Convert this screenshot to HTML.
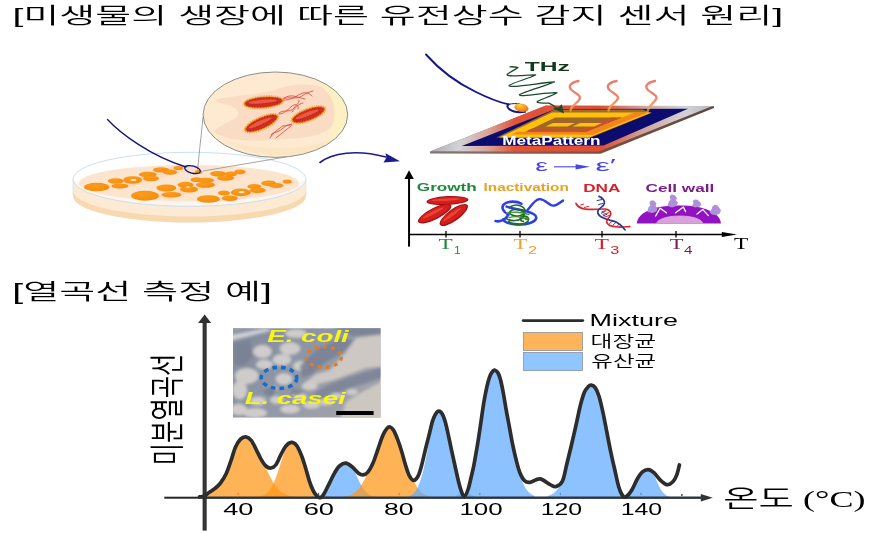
<!DOCTYPE html>
<html lang="ko"><head><meta charset="utf-8"><title>미생물의 생장에 따른 유전상수 감지 센서 원리</title>
<style>
html,body{margin:0;padding:0;background:#fff;}
body{width:880px;height:533px;overflow:hidden;font-family:"Liberation Sans","Noto Sans CJK KR",sans-serif;}
svg{display:block;}
</style></head><body>
<svg width="880" height="533" viewBox="0 0 880 533">
<rect width="880" height="533" fill="#fff"/>
<defs>
  <radialGradient id="colg" cx="0.4" cy="0.35" r="0.8">
    <stop offset="0" stop-color="#fb9c1c"/><stop offset="0.7" stop-color="#f6900e"/><stop offset="1" stop-color="#ec8206"/>
  </radialGradient>
  <linearGradient id="agarSide" x1="0" y1="0" x2="0" y2="1">
    <stop offset="0" stop-color="#fbe6cb"/><stop offset="1" stop-color="#f8d7aa"/>
  </linearGradient>
  <clipPath id="magclip"><ellipse cx="275.4" cy="114.7" rx="72" ry="42.4"/></clipPath>
</defs>
<g id="dish">
  <!-- base side -->
  <path d="M73,180 L73,196 A116.5,26.6 0 0 0 306,196 L306,180 Z" fill="#f8d8ae"/>
  <path d="M73,180 L73,190.5 A116.5,26 0 0 0 306,190.5 L306,180 Z" fill="#fdead5"/>
  <ellipse cx="189.5" cy="179.5" rx="116.3" ry="26.8" fill="#fef6ee"/>
  <path d="M73,179.5 A116.5,27 0 0 1 306,179.5 L299,183 A110,18 0 0 0 79,183 Z" fill="#fff"/>
  <ellipse cx="189" cy="183.2" rx="110" ry="18.2" fill="#fbe5cf"/>
  <!-- pink streaks -->
  <path d="M100,186 L178,165 L196,168 L120,190 Z" fill="#f9d6be" opacity="0.75"/>
  <path d="M148,196 L236,170 L250,174 L170,199 Z" fill="#f9d6be" opacity="0.75"/>
  <path d="M210,200 L285,180 L296,183 L232,202 Z" fill="#f9d6be" opacity="0.75"/>
  <!-- colonies -->
  <g fill="url(#colg)">
    <ellipse cx="96.7" cy="187" rx="12.7" ry="4.3"/>
    <ellipse cx="115.7" cy="181" rx="8" ry="2.8"/>
    <ellipse cx="120" cy="186" rx="8.5" ry="2.5"/>
    <ellipse cx="132.6" cy="180" rx="9.5" ry="3.8"/>
    <ellipse cx="147.8" cy="174.6" rx="9" ry="2.8"/>
    <ellipse cx="151" cy="178.5" rx="8" ry="2.8"/>
    <ellipse cx="161" cy="169.8" rx="8" ry="2.6"/>
    <ellipse cx="170" cy="172.2" rx="7" ry="2.6"/>
    <ellipse cx="178.5" cy="168" rx="5" ry="2"/>
    <ellipse cx="145" cy="195.7" rx="13.9" ry="5"/>
    <ellipse cx="166.4" cy="188" rx="10" ry="3.4"/>
    <ellipse cx="171.5" cy="194.8" rx="10" ry="2.8"/>
    <ellipse cx="185.5" cy="184.8" rx="8" ry="3"/>
    <ellipse cx="189" cy="189.2" rx="9" ry="3.2"/>
    <ellipse cx="196.5" cy="179.7" rx="6" ry="2.4"/>
    <ellipse cx="205.5" cy="184.8" rx="9.5" ry="3"/>
    <ellipse cx="206" cy="180.2" rx="8" ry="2.4"/>
    <ellipse cx="218" cy="173.8" rx="8" ry="2.8"/>
    <ellipse cx="225.6" cy="178" rx="8.5" ry="2.8"/>
    <ellipse cx="231" cy="174" rx="6" ry="2.5"/>
    <ellipse cx="240" cy="171.8" rx="5.5" ry="2.4"/>
    <ellipse cx="208.4" cy="199" rx="11.5" ry="3.8"/>
    <ellipse cx="224" cy="193" rx="6" ry="2.4"/>
    <ellipse cx="229.8" cy="198.3" rx="8" ry="2.8"/>
    <ellipse cx="240.8" cy="192.4" rx="10" ry="3.8"/>
    <ellipse cx="254.3" cy="186.5" rx="7" ry="2.4"/>
    <ellipse cx="257.7" cy="190.3" rx="8" ry="2.8"/>
    <ellipse cx="268.7" cy="183.2" rx="7.5" ry="2.8"/>
    <ellipse cx="276.3" cy="185.5" rx="7" ry="2.6"/>
    <ellipse cx="287.3" cy="181.4" rx="4.5" ry="2"/>
  </g>
  <g fill="#fde9c4">
    <ellipse cx="133.5" cy="180" rx="3" ry="1.1"/>
    <ellipse cx="241.5" cy="192.2" rx="3" ry="1.1"/>
    <ellipse cx="188" cy="187" rx="2" ry="0.8"/>
  </g>
  <!-- glass rim -->
  <ellipse cx="189.5" cy="179.3" rx="116.5" ry="27" fill="none" stroke="#c3dcee" stroke-width="0.9"/>
  <path d="M73,180 L73,195 M306,180 L306,195" stroke="#d3e6f2" stroke-width="0.8" fill="none"/>
</g>
<g id="needle1">
  <path d="M200.6,140 L197.5,170 M203,171 L286.4,156.9" stroke="#9a9a96" stroke-width="0.9" fill="none"/>
  <ellipse cx="198.5" cy="172" rx="4" ry="2" fill="#f39a1e"/>
  <path d="M107.5,119.5 C120,133 150,156 186,167" stroke="#15157e" stroke-width="1.35" fill="none" stroke-linecap="round"/>
  <ellipse cx="192.5" cy="169.6" rx="8" ry="3.6" transform="rotate(14 192.5 169.6)" fill="none" stroke="#15157e" stroke-width="1.3"/>
</g>
<g id="magnifier">
  <path d="M203,117 L200.6,141" stroke="#9a9a96" stroke-width="0.9" fill="none"/>
  <ellipse cx="275.4" cy="114.7" rx="72.3" ry="42.7" fill="#fdead0"/>
  <g clip-path="url(#magclip)">
    <path d="M215,100 C235,94 260,96 280,88 C300,82 320,84 335,92 C345,100 340,118 330,128 C315,140 290,138 270,140 C250,142 225,140 214,132 C222,122 240,120 238,112 C236,104 222,106 215,100 Z" fill="#f9dcc3"/>
    <path d="M318,84 C335,88 348,100 348,116 C348,130 338,142 322,148 C332,132 336,120 334,106 C332,96 326,90 318,84 Z" fill="#fdf1c4"/>
    <path d="M225,140 C250,150 300,152 330,140 C310,160 250,160 225,140 Z" fill="#fbe2bd" opacity="0.7"/>
  </g>
  <!-- flagella -->
  <g fill="none" stroke="#dc4034" stroke-width="0.8" stroke-linecap="round">
    <path d="M283,99 C290,96 296,100 302,96 C306,93 309,92 313,91"/>
    <path d="M283,100 C291,101 297,95 303,93 C307,92 310,94 312,96"/>
    <path d="M284,98 C292,93 298,98 305,99"/>
    <path d="M279,113 C284,109 290,113 294,108 C297,104 300,102 299,100"/>
    <path d="M279,114 C286,114 289,107 294,105 C297,104 299,106 298,109"/>
    <path d="M292,112 C295,108 298,104 303,103"/>
    <path d="M292,124 C287,127 284,124 280,128 C276,131 273,133 270,138"/>
    <path d="M292,125 C287,123 283,129 279,131 C276,133 272,132 271,135"/>
    <path d="M291,126 C286,130 282,133 276,138"/>
  </g>
  <!-- bacteria -->
  <g>
    <g transform="rotate(-5 263.6 102.3)">
      <ellipse cx="263.6" cy="102.3" rx="20.5" ry="6.5" fill="none" stroke="#f3a12c" stroke-width="0.9" stroke-dasharray="1.2 1"/>
      <ellipse cx="263.6" cy="102.3" rx="19.9" ry="5.9" fill="#ea8a1e"/>
      <ellipse cx="263.6" cy="102.3" rx="18.4" ry="4.7" fill="#d02c20"/>
      <ellipse cx="263.6" cy="102.3" rx="18.4" ry="4.7" fill="none" stroke="#aa1e16" stroke-width="0.7" stroke-dasharray="1.2 1.6"/>
      <ellipse cx="262.6" cy="101.5" rx="14.2" ry="1.8" fill="#f06048" opacity="0.85"/>
      <path d="M248.40000000000003,103.89999999999999 L278.8,103.5" stroke="#b4241a" stroke-width="0.7" stroke-dasharray="2 1.4" fill="none"/>
    </g>
    <g transform="rotate(-24 261.5 123.2)">
      <ellipse cx="261.5" cy="123.2" rx="18.7" ry="6.7" fill="none" stroke="#f3a12c" stroke-width="0.9" stroke-dasharray="1.2 1"/>
      <ellipse cx="261.5" cy="123.2" rx="18.099999999999998" ry="6.1000000000000005" fill="#ea8a1e"/>
      <ellipse cx="261.5" cy="123.2" rx="16.599999999999998" ry="4.9" fill="#d02c20"/>
      <ellipse cx="261.5" cy="123.2" rx="16.599999999999998" ry="4.9" fill="none" stroke="#aa1e16" stroke-width="0.7" stroke-dasharray="1.2 1.6"/>
      <ellipse cx="260.5" cy="122.4" rx="12.399999999999999" ry="2.0" fill="#f06048" opacity="0.85"/>
      <path d="M248.1,124.8 L274.9,124.4" stroke="#b4241a" stroke-width="0.7" stroke-dasharray="2 1.4" fill="none"/>
    </g>
    <g transform="rotate(-21 308.4 114.7)">
      <ellipse cx="308.4" cy="114.7" rx="18.5" ry="6.7" fill="none" stroke="#f3a12c" stroke-width="0.9" stroke-dasharray="1.2 1"/>
      <ellipse cx="308.4" cy="114.7" rx="17.9" ry="6.1000000000000005" fill="#ea8a1e"/>
      <ellipse cx="308.4" cy="114.7" rx="16.4" ry="4.9" fill="#d02c20"/>
      <ellipse cx="308.4" cy="114.7" rx="16.4" ry="4.9" fill="none" stroke="#aa1e16" stroke-width="0.7" stroke-dasharray="1.2 1.6"/>
      <ellipse cx="307.4" cy="113.9" rx="12.2" ry="2.0" fill="#f06048" opacity="0.85"/>
      <path d="M295.2,116.3 L321.59999999999997,115.9" stroke="#b4241a" stroke-width="0.7" stroke-dasharray="2 1.4" fill="none"/>
    </g>
  </g>
  <ellipse cx="275.4" cy="114.7" rx="72.3" ry="42.7" fill="none" stroke="#8e8e86" stroke-width="1"/>
</g>
<g id="bluearrow">
  <path d="M320,162.5 C332,153 356,149 386,157" stroke="#1b1b8c" stroke-width="1.6" fill="none" stroke-linecap="round"/>
  <path d="M400,161.2 L385.5,153.2 L386.5,157.6 L383.5,162.4 Z" fill="#1b1b8c"/>
</g>
<defs>
  <linearGradient id="frameG" gradientUnits="userSpaceOnUse" x1="430" y1="0" x2="714" y2="0">
    <stop offset="0" stop-color="#a9a9ae"/>
    <stop offset="0.10" stop-color="#d2d2d8"/>
    <stop offset="0.20" stop-color="#d9a79e"/>
    <stop offset="0.30" stop-color="#e0543a"/>
    <stop offset="0.60" stop-color="#e04e34"/>
    <stop offset="0.76" stop-color="#cfa8a2"/>
    <stop offset="0.90" stop-color="#d2d2d8"/>
    <stop offset="1" stop-color="#b4b4ba"/>
  </linearGradient>
  <linearGradient id="edgeG" gradientUnits="userSpaceOnUse" x1="430" y1="0" x2="714" y2="0">
    <stop offset="0" stop-color="#7d7a78"/>
    <stop offset="0.35" stop-color="#8a5a4c"/>
    <stop offset="0.6" stop-color="#7a5040"/>
    <stop offset="1" stop-color="#5e4a40"/>
  </linearGradient>
  <linearGradient id="heatG" gradientUnits="userSpaceOnUse" x1="0" y1="80" x2="0" y2="112">
    <stop offset="0" stop-color="#ea6a5c"/>
    <stop offset="0.6" stop-color="#ec7a5e"/>
    <stop offset="0.85" stop-color="#f0a050"/>
    <stop offset="1" stop-color="#f6c84a" stop-opacity="0.6"/>
  </linearGradient>
  <radialGradient id="blobG" cx="0.35" cy="0.3" r="0.8">
    <stop offset="0" stop-color="#ffd24a"/><stop offset="0.5" stop-color="#f59a20"/><stop offset="1" stop-color="#e2601a"/>
  </radialGradient>
</defs>
<g id="sensor">
  <!-- plate thickness edge -->
  <path d="M430,151.6 L545.5,105.8 L714,106.2 L714,108 L600.6,153.8 L430,153.6 Z" fill="url(#edgeG)"/>
  <!-- frame top face -->
  <path d="M431,151.2 L545.8,105.6 L712.5,106 L598.6,151.6 Z" fill="url(#frameG)"/>
  <!-- navy -->
  <path d="M461.8,146 L555.5,109 L688,108.8 L603.6,145.6 Z" fill="#0c0c6e"/>
  <!-- pattern block -->
  <path d="M496.6,137.6 L554.5,109.4 L643,109.4 L651,113 L589,138.2 Z" fill="#a26c28"/>
  <path d="M499.5,137.6 L552.2,112.5 L651.8,112.5 L589.0,137.6 Z" fill="#ffc20a"/>
  <path d="M579.2,134.6 L634.5,112.5 L648.0,112.5 L592.8,134.6 Z" fill="#f2861a"/>
  <path d="M511.6,134.6 L517.5,131.8 L599.8,131.8 L592.8,134.6 Z" fill="#f2861a"/>
  <path d="M525.5,131.8 L555.3,117.6 L621.8,117.6 L586.2,131.8 Z" fill="#a06628"/>
  <path d="M576.2,131.8 L611.8,117.6 L621.8,117.6 L586.2,131.8 Z" fill="#c4522c"/>
  <path d="M525.5,131.8 L532.2,128.6 L594.2,128.6 L586.2,131.8 Z" fill="#c4522c"/>
  <path d="M545.4,126.6 L553.0,123.0 L575.0,123.0 L567.4,126.6 Z" fill="#ffc20a"/>
  <path d="M572.4,126.6 L580.0,123.0 L602.0,123.0 L594.4,126.6 Z" fill="#ffc20a"/>
</g>
<g id="heat" fill="none" stroke="url(#heatG)" stroke-width="2.3" stroke-linecap="round" opacity="0.9">
  <path d="M578.5,81 C571,82.5 567.5,86 571.5,90 C576,94 582.5,95.5 579,100 C576.5,103.5 571,106 570.5,110.5"/>
  <path d="M616.5,81 C609,82.5 605.5,86 609.5,90 C614,94 620.5,95.5 617,100 C614.5,103.5 609,106 608.5,110.5"/>
  <path d="M655,81 C647.5,82.5 644,86 648,90 C652.5,94 659,95.5 655.5,100 C653,103.5 648,106.5 647.5,112"/>
</g>
<g id="thz">
  <path d="M510,66.8 C513,66.6 516,67 518,67.6 C515,70 509,72.4 507.2,74.4 C506.4,76 512,76 520,75.6 C527,75.2 534,74.6 535.6,75 C530,78 512,83 509.2,85.4 C508,87 516,86.6 530,84.8 C542,83.2 552,81.8 554.4,82 C548,85 523,92 519.6,94.6 C518.4,96 526,95.8 538,94.2 C548,93 555,92.4 557,92.8 C552,96 540,99.6 537.2,101.6 C536.4,102.8 542,103 549,103.2 C552,104.6 555,106.6 557,108.4" fill="none" stroke="#1d4a2c" stroke-width="1.3" stroke-linecap="round" stroke-linejoin="round"/>
  <path d="M564,113.4 L561.8,104.2 L558.6,107.2 L553,108.6 Z" fill="#1d4a2c"/>
</g>
<g id="needle2">
  <path d="M426,54.5 C438,68 455,82 476,92 C488,98 498,102 508.6,104.4" stroke="#15158a" stroke-width="1.9" fill="none" stroke-linecap="round"/>
  <path d="M508.6,104.4 C512,103.4 517,103.4 520,104" stroke="#15158a" stroke-width="1" fill="none"/>
  <path d="M508.6,104.4 C506.6,105.4 507.2,107.6 509.6,109.4 C513,111.8 519,112.6 525,111.8" stroke="#15158a" stroke-width="2" fill="none" stroke-linecap="round"/>
  <ellipse cx="521.4" cy="107.7" rx="7.2" ry="4.1" transform="rotate(12 521.4 107.7)" fill="url(#blobG)"/>
</g>
<g id="epsarrow">
  <path d="M554,166.8 L578,166.8" stroke="#4646ec" stroke-width="1.1" fill="none"/>
  <path d="M590,166.8 L575.6,164.2 L575.6,169.4 Z" fill="#4646ec"/>
</g>
<g id="timeline">
  <path d="M409.05,176 L409.05,246.6" stroke="#000" stroke-width="2" fill="none"/>
  <path d="M409.05,170.3 L413.8,178.9 L404.4,178.9 Z" fill="#000"/>
  <path d="M409,234.5 L724,234.5" stroke="#000" stroke-width="1.4" fill="none"/>
  <path d="M737,234.5 L721.8,232 L721.8,237 Z" fill="#000"/>
  <path d="M446,231 L446,237.4 M520,231 L520,237.4 M602,231 L602,237.4 M676,231 L676,237.4" stroke="#000" stroke-width="1.3" fill="none"/>
</g>
<g id="ico-growth">
  <g transform="rotate(-3 447.5 200.6)">
    <ellipse cx="447.5" cy="200.6" rx="21" ry="4.5" fill="#a01214"/>
    <ellipse cx="447.5" cy="200.4" rx="19.6" ry="3.5" fill="#d61e1e"/>
    <ellipse cx="446" cy="199.6" rx="14" ry="1.2" fill="#f0503c" opacity="0.75"/>
  </g>
  <g transform="rotate(-27 434.7 213.6)">
    <ellipse cx="434.7" cy="213.6" rx="18.6" ry="5.8" fill="#a01214"/>
    <ellipse cx="434.7" cy="213.3" rx="17.2" ry="4.6" fill="#d61e1e"/>
    <ellipse cx="433.5" cy="212.2" rx="12" ry="1.5" fill="#f0503c" opacity="0.75"/>
  </g>
  <g transform="rotate(-36 453.8 215)">
    <ellipse cx="453.8" cy="215" rx="17" ry="5.8" fill="#a01214"/>
    <ellipse cx="453.8" cy="214.7" rx="15.6" ry="4.6" fill="#d61e1e"/>
    <ellipse cx="452.6" cy="213.6" rx="11" ry="1.5" fill="#f0503c" opacity="0.75"/>
  </g>
</g>
<g id="ico-inact" fill="none" stroke-linecap="round" stroke-linejoin="round">
  <path d="M495.6,221 C500,222.4 506,219.4 508.4,214.6 C503.6,212.4 500.6,207.4 504,204.2 C508,200.8 517,200.8 521.4,203.8" stroke="#2f3fe6" stroke-width="2.6"/>
  <path d="M506.6,206.6 C512,208.6 520,209.6 527,211.4 C533,213 536.6,215 536.2,218 C535.6,222 527,225 517,224.4 C510,224 504.6,222 503,219.6" stroke="#2f3fe6" stroke-width="2.6"/>
  <path d="M527.4,210.2 C531,206.4 534,200.4 539,199.2 C545,198.4 548,205.2 553,205.6 C557,205.8 560,202.2 563,200.6" stroke="#2f3fe6" stroke-width="2.4"/>
  <path d="M511,206.4 C516,203.4 524,205.6 525,210.4 C526,215.4 516,217.6 511,214.6 C507.6,212.4 511,209 517,209.4 C523,209.8 526,213.6 523,217.4 C520,221 511,221.6 507,219" stroke="#1f6e24" stroke-width="1.7"/>
  <path d="M509,221.6 C514,226 525,225.4 528,221 C530,217.6 526,215 522,216.6 C519,218 520,221.4 523.4,221.4" stroke="#1f6e24" stroke-width="1.7"/>
  <path d="M506,213.4 C512,211.2 522,212 529,214.6" stroke="#3c9030" stroke-width="1.4"/>
  <path d="M509,217.6 C514,216 520,216.4 525,218.4" stroke="#3c9030" stroke-width="1.2"/>
  <ellipse cx="526.6" cy="218.6" rx="2.4" ry="1.6" fill="#3c9030" stroke="none"/>
</g>
<g id="ico-dna" fill="none" stroke-linecap="round">
  <g stroke="#d8262e" stroke-width="1">
    <path d="M580.6,205 L583.6,204.2 M584.4,207.4 L588.6,206.4 M602,211.6 L606,210.6 M603,214.4 L608.6,212.8 M604.6,217 L609.6,215.4"/>
    <path d="M609.6,223.4 L612.6,221 M613,225 L616,222.4 M617,226.4 L619.6,223.8"/>
  </g>
  <g stroke="#2c3c8c" stroke-width="1">
    <path d="M597,200.6 L601.6,199.6 M598.6,204.6 L603,203.4"/>
    <path d="M601.4,213.2 L605,211.6 M603,216 L607,214.2"/>
  </g>
  <path d="M576,203.5 C577.6,206.6 580,208 584,208.8 C590,209.8 597,209.4 603.4,209 C608,208.8 611,211 610.8,214 C610.6,217.4 606,219.4 606.6,222 C607.2,225 612,226.6 617.6,227 C622,227.2 626,226.8 629.8,226.6" stroke="#d8262e" stroke-width="1.7"/>
  <path d="M599,196.4 C602.6,198 604.8,200.4 604.4,203.4 C604,206.6 598.6,208 597.8,211.2 C597.2,214.6 600.6,217.4 605.8,219 C610,220.4 614,220.8 617,222.4 C620.6,224.4 623,227 625,229.8" stroke="#2c3c8c" stroke-width="1.7"/>
</g>
<g id="ico-cell">
  <path d="M636.8,223.6 C637.4,213 652,205.4 678.8,205.4 C705.6,205.4 720.4,213 720.9,223.6 Z" fill="#9212c2"/>
  <g fill="#b090d8">
    <path d="M647.4,212 L648.4,207.6 L650.4,205.6 L649.4,202.4 L651,200.4 L654,200.6 L656.4,203.4 L655.6,206 L657.6,208 L656.4,211.4 L652.6,213 Z"/>
    <path d="M667.6,206 L668.8,201.6 L670.6,199.8 L669.6,196.6 L671.4,194.6 L674.4,195 L677,198 L676,200.6 L678,202.6 L676.6,206 L672,207.4 Z"/>
    <path d="M692,206 L693.6,203 L692.8,201 L694.6,199.6 L697.6,199.8 L700,202 L701.4,204.4 L699.6,206.6 L695.6,207.4 Z"/>
    <path d="M709.4,212 L711.6,209.6 L712.4,206.4 L714.6,204.8 L717.6,205.6 L719.4,208 L721,210.6 L719.6,213.6 L716.4,215.2 L712,214.6 Z"/>
  </g>
  <path d="M656.7,223.6 A23,7.6 0 0 1 702.7,223.6 Z" fill="#d6a2d8"/>
  <path d="M656.7,223.6 A23,7.6 0 0 1 702.7,223.6" fill="none" stroke="#eeb6e6" stroke-width="0.7"/>
  <g stroke="#fff" stroke-width="1.3" fill="none" stroke-linecap="round" stroke-linejoin="round">
    <path d="M655.6,216 L660.2,208.2 L666.4,212.8"/>
    <path d="M675.6,212.8 L683.4,207 L685.6,211.6"/>
    <path d="M697,214 L702.7,209.4 L708.4,215.6"/>
  </g>
</g>
<defs>
  <clipPath id="photoclip"><rect x="233" y="328.3" width="147.5" height="89.2"/></clipPath>
  <filter id="pblur" x="-10%" y="-10%" width="120%" height="120%"><feGaussianBlur stdDeviation="1.7"/></filter>
  <linearGradient id="photoBg" x1="0" y1="0" x2="1" y2="0.6">
    <stop offset="0" stop-color="#818a9d"/><stop offset="0.5" stop-color="#8f96a6"/><stop offset="1" stop-color="#a2a3aa"/>
  </linearGradient>
</defs>
<g id="photo">
  <rect x="233" y="328.3" width="147.5" height="89.2" fill="url(#photoBg)"/>
  <g clip-path="url(#photoclip)">
    <g filter="url(#pblur)">
      <path d="M228,335.5 L266,328 L272,330.5 L228,341.5 Z" fill="#cfd0d4"/>
      <path d="M228,326 L262,326 L228,333 Z" fill="#9aa0ac"/>
      <path d="M330,326 L385,326 L385,335 L352,336 Z" fill="#7c8597"/>
      <path d="M346,352 L356,338 L385,334 L385,366 L366,368 L350,374 L334,380 L318,384 L306,382 L316,374 L330,370 Z" fill="#cdc8c3"/>
      <path d="M385,366 L385,377 L350,388 L322,399 L312,394 L330,384 L352,376 Z" fill="#7f879a"/>
      <path d="M340,420 L346,402 L362,392 L385,380 L385,420 Z" fill="#cdc7c1"/>
      <g fill="#cfcccb">
        <ellipse cx="262.4" cy="351.5" rx="9.5" ry="6.8"/>
        <ellipse cx="264.4" cy="364.5" rx="8.5" ry="5"/>
        <ellipse cx="246.7" cy="376" rx="12" ry="8"/>
        <ellipse cx="239.8" cy="390" rx="7.5" ry="9.5"/>
        <ellipse cx="282" cy="359.8" rx="9.5" ry="6"/>
        <ellipse cx="290" cy="348.5" rx="10.5" ry="6.4"/>
        <ellipse cx="284" cy="379" rx="8.5" ry="6"/>
        <ellipse cx="300" cy="366" rx="7" ry="5"/>
        <ellipse cx="309.6" cy="386" rx="8" ry="4.4"/>
        <ellipse cx="239" cy="409.5" rx="8" ry="6"/>
        <ellipse cx="255" cy="413" rx="12" ry="5"/>
        <ellipse cx="258" cy="401" rx="8" ry="4.6"/>
        <ellipse cx="290" cy="409" rx="10" ry="4.5"/>
        <ellipse cx="311.6" cy="405" rx="8.5" ry="3.8"/>
        <ellipse cx="277" cy="400" rx="7" ry="4"/>
        <ellipse cx="300" cy="397" rx="7" ry="3.6"/>
        <ellipse cx="296" cy="333.5" rx="11" ry="4.6"/>
        <ellipse cx="326" cy="402" rx="7" ry="3.4"/>
        <ellipse cx="336" cy="396" rx="6" ry="3"/>
        <ellipse cx="352" cy="392" rx="6" ry="3"/>
        <ellipse cx="272" cy="390" rx="6" ry="4"/>
      </g>
      <g fill="#7a8295">
        <path d="M234,343 L250,340 L253,356 L244,366 L234,364 Z"/>
        <path d="M262,392 L270,386 L278,391 L270,397 Z"/>
        <path d="M300,366 L316,350 L340,338 L354,340 L344,352 L326,362 L312,374 L302,378 Z" opacity="0.9"/>
        <path d="M292,388 L304,391 L298,396 L290,393 Z" opacity="0.8"/>
      </g>
    </g>
    <ellipse cx="279" cy="377.9" rx="17.8" ry="10.6" fill="none" stroke="#1b6bc4" stroke-width="3.6" stroke-dasharray="4.6 4.1"/>
    <ellipse cx="323.9" cy="357.1" rx="17.6" ry="10.3" fill="none" stroke="#e67a1c" stroke-width="3.2" stroke-dasharray="3.6 4.6"/>
    <rect x="336.2" y="411" width="37.4" height="4" fill="#000"/>
  </g>
</g>

<g id="chart">
<defs><clipPath id="undercurve"><path d="M199.60,496.80 C200.33,496.70 202.43,496.90 204.00,496.20 C205.57,495.50 207.22,493.85 209.00,492.60 C210.78,491.35 212.77,490.33 214.70,488.70 C216.63,487.07 218.63,485.43 220.60,482.80 C222.57,480.17 224.68,476.85 226.50,472.90 C228.32,468.95 230.02,463.37 231.50,459.10 C232.98,454.83 233.93,450.58 235.40,447.30 C236.87,444.02 238.57,441.15 240.30,439.40 C242.03,437.65 243.98,436.63 245.80,436.80 C247.62,436.97 249.48,438.32 251.20,440.40 C252.92,442.48 254.47,446.18 256.10,449.30 C257.73,452.42 259.37,456.32 261.00,459.10 C262.63,461.88 264.25,464.52 265.90,466.00 C267.55,467.48 269.25,468.17 270.90,468.00 C272.55,467.83 274.17,467.13 275.80,465.00 C277.43,462.87 279.07,458.32 280.70,455.20 C282.33,452.08 283.85,448.43 285.60,446.30 C287.35,444.17 289.38,442.57 291.20,442.40 C293.02,442.23 294.80,443.17 296.50,445.30 C298.20,447.43 299.93,451.58 301.40,455.20 C302.87,458.82 303.98,462.73 305.30,467.00 C306.62,471.27 307.98,476.87 309.30,480.80 C310.62,484.73 311.98,488.10 313.20,490.60 C314.42,493.10 315.63,494.67 316.60,495.80 C317.57,496.93 318.17,497.20 319.00,497.40 C319.83,497.60 320.65,497.80 321.60,497.00 C322.55,496.20 323.37,494.97 324.70,492.60 C326.03,490.23 327.95,486.08 329.60,482.80 C331.25,479.52 332.95,475.70 334.60,472.90 C336.25,470.10 337.63,467.63 339.50,466.00 C341.37,464.37 343.67,462.93 345.80,463.10 C347.93,463.27 350.23,465.37 352.30,467.00 C354.37,468.63 356.40,471.58 358.20,472.90 C360.00,474.22 361.45,475.07 363.10,474.90 C364.75,474.73 366.45,473.87 368.10,471.90 C369.75,469.93 371.37,466.87 373.00,463.10 C374.63,459.33 376.27,453.90 377.90,449.30 C379.53,444.70 381.32,438.95 382.80,435.50 C384.28,432.05 385.58,430.02 386.80,428.60 C388.02,427.18 388.95,426.68 390.10,427.00 C391.25,427.32 392.45,428.43 393.70,430.50 C394.95,432.57 396.28,435.95 397.60,439.40 C398.92,442.85 400.28,446.93 401.60,451.20 C402.92,455.47 404.20,460.88 405.50,465.00 C406.80,469.12 408.02,473.33 409.40,475.90 C410.78,478.47 412.32,480.45 413.80,480.40 C415.28,480.35 416.98,478.17 418.30,475.60 C419.62,473.03 420.48,469.48 421.70,465.00 C422.92,460.52 424.28,454.05 425.60,448.70 C426.92,443.35 428.45,437.50 429.60,432.90 C430.75,428.30 431.52,424.22 432.50,421.10 C433.48,417.98 434.45,415.85 435.50,414.20 C436.55,412.55 437.65,411.20 438.80,411.20 C439.95,411.20 441.32,412.38 442.40,414.20 C443.48,416.02 444.32,418.65 445.30,422.10 C446.28,425.55 447.32,430.47 448.30,434.90 C449.28,439.33 450.12,443.68 451.20,448.70 C452.28,453.72 453.60,459.62 454.80,465.00 C456.00,470.38 457.27,476.50 458.40,481.00 C459.53,485.50 460.58,489.42 461.60,492.00 C462.62,494.58 463.40,497.00 464.50,496.50 C465.60,496.00 467.08,492.25 468.20,489.00 C469.32,485.75 470.25,481.00 471.20,477.00 C472.15,473.00 472.80,470.70 473.90,465.00 C475.00,459.30 476.65,449.78 477.80,442.80 C478.95,435.82 479.82,429.68 480.80,423.10 C481.78,416.52 482.72,409.22 483.70,403.30 C484.68,397.38 485.70,392.03 486.70,387.60 C487.70,383.17 488.72,379.40 489.70,376.70 C490.68,374.00 491.72,372.48 492.60,371.40 C493.48,370.32 494.12,369.97 495.00,370.20 C495.88,370.43 496.98,371.22 497.90,372.80 C498.82,374.38 499.58,376.25 500.50,379.70 C501.42,383.15 502.42,388.25 503.40,393.50 C504.38,398.75 505.40,405.62 506.40,411.20 C507.40,416.78 508.42,421.73 509.40,427.00 C510.38,432.27 511.15,437.22 512.30,442.80 C513.45,448.38 515.05,455.55 516.30,460.50 C517.55,465.45 518.45,469.15 519.80,472.50 C521.15,475.85 522.73,478.95 524.40,480.60 C526.07,482.25 527.22,482.68 529.80,482.40 C532.38,482.12 536.50,478.53 539.90,478.90 C543.30,479.27 547.48,483.33 550.20,484.60 C552.92,485.87 554.15,487.10 556.20,486.50 C558.25,485.90 560.77,484.58 562.50,481.00 C564.23,477.42 565.10,471.05 566.60,465.00 C568.10,458.95 569.85,451.70 571.50,444.70 C573.15,437.70 575.02,429.57 576.50,423.00 C577.98,416.43 579.10,410.38 580.40,405.30 C581.70,400.22 582.98,395.62 584.30,392.50 C585.62,389.38 587.15,387.82 588.30,386.60 C589.45,385.38 590.05,385.03 591.20,385.20 C592.35,385.37 593.88,385.72 595.20,387.60 C596.52,389.48 597.78,392.23 599.10,396.50 C600.42,400.77 601.78,407.13 603.10,413.20 C604.42,419.27 605.70,426.33 607.00,432.90 C608.30,439.47 609.63,446.58 610.90,452.60 C612.17,458.62 613.30,463.32 614.60,469.00 C615.90,474.68 617.40,482.30 618.70,486.70 C620.00,491.10 621.25,493.68 622.40,495.40 C623.55,497.12 624.08,497.80 625.60,497.00 C627.12,496.20 629.53,493.63 631.50,490.60 C633.47,487.57 635.58,481.92 637.40,478.80 C639.22,475.68 640.58,473.43 642.40,471.90 C644.22,470.37 646.33,469.43 648.30,469.60 C650.27,469.77 652.23,471.20 654.20,472.90 C656.17,474.60 657.97,477.83 660.10,479.80 C662.23,481.77 664.87,484.37 667.00,484.70 C669.13,485.03 671.27,483.43 672.90,481.80 C674.53,480.17 675.72,477.70 676.80,474.90 C677.88,472.10 678.97,466.65 679.40,465.00 L679.4,498.4 L199.6,498.4 Z"/></clipPath></defs>
<g clip-path="url(#undercurve)">
<path d="M206.0,497.4 L206.0,493.38 L207.0,492.79 L208.0,492.14 L209.0,491.41 L210.0,490.60 L211.0,489.71 L212.0,488.74 L213.0,487.67 L214.0,486.52 L215.0,485.26 L216.0,483.91 L217.0,482.46 L218.0,480.91 L219.0,479.27 L220.0,477.53 L221.0,475.69 L222.0,473.77 L223.0,471.77 L224.0,469.70 L225.0,467.56 L226.0,465.36 L227.0,463.13 L228.0,460.86 L229.0,458.58 L230.0,456.30 L231.0,454.04 L232.0,451.81 L233.0,449.63 L234.0,447.51 L235.0,445.49 L236.0,443.57 L237.0,441.77 L238.0,440.11 L239.0,438.60 L240.0,437.26 L241.0,436.11 L242.0,435.15 L243.0,434.39 L244.0,433.84 L245.0,433.51 L246.0,433.40 L247.0,433.52 L248.0,433.90 L249.0,434.52 L250.0,435.37 L251.0,436.45 L252.0,437.75 L253.0,439.24 L254.0,440.92 L255.0,442.76 L256.0,444.76 L257.0,446.87 L258.0,449.09 L259.0,451.39 L260.0,453.76 L261.0,456.16 L262.0,458.58 L263.0,461.01 L264.0,463.41 L265.0,465.78 L266.0,468.10 L267.0,470.35 L268.0,472.53 L269.0,474.62 L270.0,476.62 L271.0,478.52 L272.0,480.31 L273.0,481.99 L274.0,483.56 L275.0,485.02 L276.0,486.37 L277.0,487.60 L278.0,488.74 L279.0,489.77 L280.0,490.71 L281.0,491.55 L282.0,492.31 L283.0,492.98 L284.0,493.59 L285.0,494.12 L286.0,494.59 L287.0,495.00 L288.0,495.36 L289.0,495.67 L290.0,495.94 L291.0,496.17 L292.0,496.37 L293.0,496.54 L294.0,496.69 L294.0,497.4 Z" fill="#ff9616" fill-opacity="0.72"/>
<path d="M259.0,497.4 L259.0,496.76 L260.0,496.56 L261.0,496.31 L262.0,495.99 L263.0,495.60 L264.0,495.13 L265.0,494.55 L266.0,493.85 L267.0,493.02 L268.0,492.03 L269.0,490.88 L270.0,489.55 L271.0,488.02 L272.0,486.29 L273.0,484.35 L274.0,482.20 L275.0,479.83 L276.0,477.26 L277.0,474.51 L278.0,471.60 L279.0,468.55 L280.0,465.41 L281.0,462.22 L282.0,459.03 L283.0,455.90 L284.0,452.88 L285.0,450.03 L286.0,447.42 L287.0,445.09 L288.0,443.11 L289.0,441.52 L290.0,440.35 L291.0,439.64 L292.0,439.40 L293.0,439.57 L294.0,440.08 L295.0,440.92 L296.0,442.08 L297.0,443.54 L298.0,445.26 L299.0,447.23 L300.0,449.41 L301.0,451.76 L302.0,454.25 L303.0,456.85 L304.0,459.52 L305.0,462.22 L306.0,464.92 L307.0,467.59 L308.0,470.20 L309.0,472.73 L310.0,475.16 L311.0,477.47 L312.0,479.64 L313.0,481.67 L314.0,483.55 L315.0,485.27 L316.0,486.85 L317.0,488.27 L318.0,489.55 L319.0,490.69 L320.0,491.70 L321.0,492.58 L322.0,493.35 L323.0,494.02 L324.0,494.60 L325.0,495.09 L326.0,495.50 L327.0,495.85 L328.0,496.15 L329.0,496.39 L330.0,496.59 L331.0,496.76 L331.0,497.4 Z" fill="#ff9616" fill-opacity="0.72"/>
<path d="M310.0,497.4 L310.0,496.99 L311.0,496.87 L312.0,496.73 L313.0,496.56 L314.0,496.34 L315.0,496.08 L316.0,495.77 L317.0,495.40 L318.0,494.97 L319.0,494.46 L320.0,493.86 L321.0,493.18 L322.0,492.39 L323.0,491.50 L324.0,490.51 L325.0,489.40 L326.0,488.17 L327.0,486.84 L328.0,485.39 L329.0,483.84 L330.0,482.19 L331.0,480.46 L332.0,478.67 L333.0,476.82 L334.0,474.96 L335.0,473.09 L336.0,471.25 L337.0,469.47 L338.0,467.77 L339.0,466.19 L340.0,464.75 L341.0,463.48 L342.0,462.40 L343.0,461.54 L344.0,460.91 L345.0,460.53 L346.0,460.40 L347.0,460.58 L348.0,461.10 L349.0,461.97 L350.0,463.14 L351.0,464.59 L352.0,466.28 L353.0,468.16 L354.0,470.20 L355.0,472.33 L356.0,474.52 L357.0,476.71 L358.0,478.88 L359.0,480.98 L360.0,482.97 L361.0,484.85 L362.0,486.59 L363.0,488.17 L364.0,489.60 L365.0,490.87 L366.0,491.99 L367.0,492.96 L368.0,493.79 L369.0,494.49 L370.0,495.08 L371.0,495.56 L372.0,495.96 L373.0,496.29 L374.0,496.55 L375.0,496.75 L376.0,496.91 L376.0,497.4 Z" fill="#5eabff" fill-opacity="0.72"/>
<path d="M344.4,497.4 L344.4,496.59 L345.4,496.41 L346.4,496.21 L347.4,495.96 L348.4,495.67 L349.4,495.34 L350.4,494.95 L351.4,494.50 L352.4,493.98 L353.4,493.38 L354.4,492.70 L355.4,491.93 L356.4,491.06 L357.4,490.08 L358.4,488.99 L359.4,487.78 L360.4,486.44 L361.4,484.97 L362.4,483.36 L363.4,481.61 L364.4,479.72 L365.4,477.70 L366.4,475.53 L367.4,473.23 L368.4,470.80 L369.4,468.26 L370.4,465.61 L371.4,462.87 L372.4,460.06 L373.4,457.19 L374.4,454.29 L375.4,451.38 L376.4,448.48 L377.4,445.63 L378.4,442.84 L379.4,440.16 L380.4,437.60 L381.4,435.20 L382.4,432.98 L383.4,430.97 L384.4,429.19 L385.4,427.67 L386.4,426.42 L387.4,425.46 L388.4,424.80 L389.4,424.46 L390.4,424.43 L391.4,424.78 L392.4,425.51 L393.4,426.61 L394.4,428.07 L395.4,429.86 L396.4,431.95 L397.4,434.31 L398.4,436.91 L399.4,439.71 L400.4,442.67 L401.4,445.76 L402.4,448.93 L403.4,452.15 L404.4,455.38 L405.4,458.59 L406.4,461.74 L407.4,464.81 L408.4,467.78 L409.4,470.61 L410.4,473.31 L411.4,475.85 L412.4,478.22 L413.4,480.42 L414.4,482.45 L415.4,484.31 L416.4,486.00 L417.4,487.52 L418.4,488.89 L419.4,490.10 L420.4,491.18 L421.4,492.12 L422.4,492.95 L423.4,493.66 L424.4,494.28 L425.4,494.81 L426.4,495.26 L427.4,495.64 L428.4,495.96 L429.4,496.23 L430.4,496.46 L430.4,497.4 Z" fill="#ff9616" fill-opacity="0.72"/>
<path d="M408.4,497.4 L408.4,496.41 L409.4,496.08 L410.4,495.65 L411.4,495.11 L412.4,494.43 L413.4,493.58 L414.4,492.54 L415.4,491.28 L416.4,489.76 L417.4,487.95 L418.4,485.82 L419.4,483.35 L420.4,480.52 L421.4,477.31 L422.4,473.73 L423.4,469.76 L424.4,465.45 L425.4,460.81 L426.4,455.90 L427.4,450.78 L428.4,445.53 L429.4,440.25 L430.4,435.02 L431.4,429.97 L432.4,425.21 L433.4,420.85 L434.4,417.01 L435.4,413.77 L436.4,411.24 L437.4,409.49 L438.4,408.55 L439.4,408.45 L440.4,409.00 L441.4,410.16 L442.4,411.90 L443.4,414.19 L444.4,416.97 L445.4,420.20 L446.4,423.81 L447.4,427.74 L448.4,431.91 L449.4,436.27 L450.4,440.72 L451.4,445.22 L452.4,449.69 L453.4,454.08 L454.4,458.34 L455.4,462.42 L456.4,466.29 L457.4,469.93 L458.4,473.31 L459.4,476.42 L460.4,479.25 L461.4,481.81 L462.4,484.11 L463.4,486.14 L464.4,487.93 L465.4,489.49 L466.4,490.83 L467.4,491.99 L468.4,492.97 L469.4,493.80 L470.4,494.50 L471.4,495.08 L472.4,495.55 L473.4,495.94 L474.4,496.25 L474.4,497.4 Z" fill="#5eabff" fill-opacity="0.72"/>
<path d="M455.5,497.4 L455.5,495.94 L456.5,495.57 L457.5,495.12 L458.5,494.57 L459.5,493.91 L460.5,493.12 L461.5,492.18 L462.5,491.07 L463.5,489.77 L464.5,488.26 L465.5,486.52 L466.5,484.52 L467.5,482.24 L468.5,479.67 L469.5,476.78 L470.5,473.57 L471.5,470.01 L472.5,466.11 L473.5,461.87 L474.5,457.28 L475.5,452.38 L476.5,447.17 L477.5,441.69 L478.5,435.98 L479.5,430.08 L480.5,424.04 L481.5,417.94 L482.5,411.84 L483.5,405.82 L484.5,399.95 L485.5,394.32 L486.5,389.00 L487.5,384.08 L488.5,379.64 L489.5,375.74 L490.5,372.46 L491.5,369.84 L492.5,367.94 L493.5,366.79 L494.5,366.40 L495.5,366.76 L496.5,367.83 L497.5,369.59 L498.5,372.03 L499.5,375.08 L500.5,378.72 L501.5,382.88 L502.5,387.50 L503.5,392.50 L504.5,397.83 L505.5,403.41 L506.5,409.15 L507.5,415.00 L508.5,420.89 L509.5,426.74 L510.5,432.50 L511.5,438.12 L512.5,443.54 L513.5,448.74 L514.5,453.68 L515.5,458.33 L516.5,462.68 L517.5,466.71 L518.5,470.42 L519.5,473.82 L520.5,476.90 L521.5,479.67 L522.5,482.15 L523.5,484.36 L524.5,486.31 L525.5,488.02 L526.5,489.51 L527.5,490.80 L528.5,491.91 L529.5,492.85 L530.5,493.66 L531.5,494.34 L532.5,494.91 L533.5,495.38 L534.5,495.77 L534.5,497.4 Z" fill="#5eabff" fill-opacity="0.72"/>
<path d="M547.5,497.4 L547.5,496.11 L548.5,495.82 L549.5,495.47 L550.5,495.05 L551.5,494.56 L552.5,493.98 L553.5,493.31 L554.5,492.52 L555.5,491.61 L556.5,490.56 L557.5,489.36 L558.5,487.99 L559.5,486.44 L560.5,484.70 L561.5,482.76 L562.5,480.59 L563.5,478.20 L564.5,475.56 L565.5,472.69 L566.5,469.57 L567.5,466.20 L568.5,462.60 L569.5,458.76 L570.5,454.70 L571.5,450.44 L572.5,446.00 L573.5,441.40 L574.5,436.69 L575.5,431.89 L576.5,427.04 L577.5,422.20 L578.5,417.40 L579.5,412.70 L580.5,408.15 L581.5,403.81 L582.5,399.71 L583.5,395.92 L584.5,392.49 L585.5,389.45 L586.5,386.85 L587.5,384.73 L588.5,383.11 L589.5,382.02 L590.5,381.47 L591.5,381.47 L592.5,382.06 L593.5,383.23 L594.5,384.97 L595.5,387.24 L596.5,390.01 L597.5,393.25 L598.5,396.91 L599.5,400.93 L600.5,405.26 L601.5,409.84 L602.5,414.62 L603.5,419.53 L604.5,424.53 L605.5,429.55 L606.5,434.55 L607.5,439.48 L608.5,444.29 L609.5,448.95 L610.5,453.43 L611.5,457.69 L612.5,461.73 L613.5,465.51 L614.5,469.05 L615.5,472.31 L616.5,475.32 L617.5,478.06 L618.5,480.55 L619.5,482.79 L620.5,484.80 L621.5,486.59 L622.5,488.17 L623.5,489.56 L624.5,490.78 L625.5,491.83 L626.5,492.74 L627.5,493.52 L628.5,494.19 L629.5,494.76 L630.5,495.23 L631.5,495.63 L632.5,495.97 L632.5,497.4 Z" fill="#5eabff" fill-opacity="0.72"/>
<path d="M618.5,497.4 L618.5,497.08 L619.5,496.97 L620.5,496.82 L621.5,496.64 L622.5,496.41 L623.5,496.13 L624.5,495.77 L625.5,495.34 L626.5,494.82 L627.5,494.20 L628.5,493.48 L629.5,492.63 L630.5,491.66 L631.5,490.56 L632.5,489.34 L633.5,487.99 L634.5,486.52 L635.5,484.94 L636.5,483.28 L637.5,481.56 L638.5,479.81 L639.5,478.06 L640.5,476.34 L641.5,474.70 L642.5,473.18 L643.5,471.81 L644.5,470.63 L645.5,469.68 L646.5,468.97 L647.5,468.54 L648.5,468.40 L649.5,468.64 L650.5,469.36 L651.5,470.52 L652.5,472.06 L653.5,473.91 L654.5,475.99 L655.5,478.22 L656.5,480.50 L657.5,482.75 L658.5,484.92 L659.5,486.95 L660.5,488.79 L661.5,490.43 L662.5,491.85 L663.5,493.05 L664.5,494.05 L665.5,494.87 L666.5,495.51 L667.5,496.02 L668.5,496.41 L669.5,496.70 L670.5,496.91 L671.5,497.07 L671.5,497.4 Z" fill="#5eabff" fill-opacity="0.72"/>
</g>
<rect x="202.6" y="320" width="4.1" height="210.6" fill="#343434"/>
<path d="M204.65,314.6 L211.2,323 L198.1,323 Z" fill="#303030"/>
<rect x="164.3" y="496.7" width="42" height="2" fill="#262626"/>
<rect x="205" y="496.5" width="497" height="2.4" fill="#2c3440"/>
<path d="M712.8,497.7 L700.8,493.9 L700.8,501.6 Z" fill="#343434"/>
<path d="M199.60,496.80 C200.33,496.70 202.43,496.90 204.00,496.20 C205.57,495.50 207.22,493.85 209.00,492.60 C210.78,491.35 212.77,490.33 214.70,488.70 C216.63,487.07 218.63,485.43 220.60,482.80 C222.57,480.17 224.68,476.85 226.50,472.90 C228.32,468.95 230.02,463.37 231.50,459.10 C232.98,454.83 233.93,450.58 235.40,447.30 C236.87,444.02 238.57,441.15 240.30,439.40 C242.03,437.65 243.98,436.63 245.80,436.80 C247.62,436.97 249.48,438.32 251.20,440.40 C252.92,442.48 254.47,446.18 256.10,449.30 C257.73,452.42 259.37,456.32 261.00,459.10 C262.63,461.88 264.25,464.52 265.90,466.00 C267.55,467.48 269.25,468.17 270.90,468.00 C272.55,467.83 274.17,467.13 275.80,465.00 C277.43,462.87 279.07,458.32 280.70,455.20 C282.33,452.08 283.85,448.43 285.60,446.30 C287.35,444.17 289.38,442.57 291.20,442.40 C293.02,442.23 294.80,443.17 296.50,445.30 C298.20,447.43 299.93,451.58 301.40,455.20 C302.87,458.82 303.98,462.73 305.30,467.00 C306.62,471.27 307.98,476.87 309.30,480.80 C310.62,484.73 311.98,488.10 313.20,490.60 C314.42,493.10 315.63,494.67 316.60,495.80 C317.57,496.93 318.17,497.20 319.00,497.40 C319.83,497.60 320.65,497.80 321.60,497.00 C322.55,496.20 323.37,494.97 324.70,492.60 C326.03,490.23 327.95,486.08 329.60,482.80 C331.25,479.52 332.95,475.70 334.60,472.90 C336.25,470.10 337.63,467.63 339.50,466.00 C341.37,464.37 343.67,462.93 345.80,463.10 C347.93,463.27 350.23,465.37 352.30,467.00 C354.37,468.63 356.40,471.58 358.20,472.90 C360.00,474.22 361.45,475.07 363.10,474.90 C364.75,474.73 366.45,473.87 368.10,471.90 C369.75,469.93 371.37,466.87 373.00,463.10 C374.63,459.33 376.27,453.90 377.90,449.30 C379.53,444.70 381.32,438.95 382.80,435.50 C384.28,432.05 385.58,430.02 386.80,428.60 C388.02,427.18 388.95,426.68 390.10,427.00 C391.25,427.32 392.45,428.43 393.70,430.50 C394.95,432.57 396.28,435.95 397.60,439.40 C398.92,442.85 400.28,446.93 401.60,451.20 C402.92,455.47 404.20,460.88 405.50,465.00 C406.80,469.12 408.02,473.33 409.40,475.90 C410.78,478.47 412.32,480.45 413.80,480.40 C415.28,480.35 416.98,478.17 418.30,475.60 C419.62,473.03 420.48,469.48 421.70,465.00 C422.92,460.52 424.28,454.05 425.60,448.70 C426.92,443.35 428.45,437.50 429.60,432.90 C430.75,428.30 431.52,424.22 432.50,421.10 C433.48,417.98 434.45,415.85 435.50,414.20 C436.55,412.55 437.65,411.20 438.80,411.20 C439.95,411.20 441.32,412.38 442.40,414.20 C443.48,416.02 444.32,418.65 445.30,422.10 C446.28,425.55 447.32,430.47 448.30,434.90 C449.28,439.33 450.12,443.68 451.20,448.70 C452.28,453.72 453.60,459.62 454.80,465.00 C456.00,470.38 457.27,476.50 458.40,481.00 C459.53,485.50 460.58,489.42 461.60,492.00 C462.62,494.58 463.40,497.00 464.50,496.50 C465.60,496.00 467.08,492.25 468.20,489.00 C469.32,485.75 470.25,481.00 471.20,477.00 C472.15,473.00 472.80,470.70 473.90,465.00 C475.00,459.30 476.65,449.78 477.80,442.80 C478.95,435.82 479.82,429.68 480.80,423.10 C481.78,416.52 482.72,409.22 483.70,403.30 C484.68,397.38 485.70,392.03 486.70,387.60 C487.70,383.17 488.72,379.40 489.70,376.70 C490.68,374.00 491.72,372.48 492.60,371.40 C493.48,370.32 494.12,369.97 495.00,370.20 C495.88,370.43 496.98,371.22 497.90,372.80 C498.82,374.38 499.58,376.25 500.50,379.70 C501.42,383.15 502.42,388.25 503.40,393.50 C504.38,398.75 505.40,405.62 506.40,411.20 C507.40,416.78 508.42,421.73 509.40,427.00 C510.38,432.27 511.15,437.22 512.30,442.80 C513.45,448.38 515.05,455.55 516.30,460.50 C517.55,465.45 518.45,469.15 519.80,472.50 C521.15,475.85 522.73,478.95 524.40,480.60 C526.07,482.25 527.22,482.68 529.80,482.40 C532.38,482.12 536.50,478.53 539.90,478.90 C543.30,479.27 547.48,483.33 550.20,484.60 C552.92,485.87 554.15,487.10 556.20,486.50 C558.25,485.90 560.77,484.58 562.50,481.00 C564.23,477.42 565.10,471.05 566.60,465.00 C568.10,458.95 569.85,451.70 571.50,444.70 C573.15,437.70 575.02,429.57 576.50,423.00 C577.98,416.43 579.10,410.38 580.40,405.30 C581.70,400.22 582.98,395.62 584.30,392.50 C585.62,389.38 587.15,387.82 588.30,386.60 C589.45,385.38 590.05,385.03 591.20,385.20 C592.35,385.37 593.88,385.72 595.20,387.60 C596.52,389.48 597.78,392.23 599.10,396.50 C600.42,400.77 601.78,407.13 603.10,413.20 C604.42,419.27 605.70,426.33 607.00,432.90 C608.30,439.47 609.63,446.58 610.90,452.60 C612.17,458.62 613.30,463.32 614.60,469.00 C615.90,474.68 617.40,482.30 618.70,486.70 C620.00,491.10 621.25,493.68 622.40,495.40 C623.55,497.12 624.08,497.80 625.60,497.00 C627.12,496.20 629.53,493.63 631.50,490.60 C633.47,487.57 635.58,481.92 637.40,478.80 C639.22,475.68 640.58,473.43 642.40,471.90 C644.22,470.37 646.33,469.43 648.30,469.60 C650.27,469.77 652.23,471.20 654.20,472.90 C656.17,474.60 657.97,477.83 660.10,479.80 C662.23,481.77 664.87,484.37 667.00,484.70 C669.13,485.03 671.27,483.43 672.90,481.80 C674.53,480.17 675.72,477.70 676.80,474.90 C677.88,472.10 678.97,466.65 679.40,465.00" fill="none" stroke="#2d2d2d" stroke-width="3.7" stroke-linecap="round" stroke-linejoin="round"/>
<rect x="237.4" y="492.8" width="1.2" height="2.4" fill="#e07a10" opacity="0.8"/>
<rect x="318.0" y="492.8" width="1.2" height="2.4" fill="#3a3a3a" opacity="0.8"/>
<rect x="398.6" y="492.8" width="1.2" height="2.4" fill="#e07a10" opacity="0.8"/>
<rect x="479.2" y="492.8" width="1.2" height="2.4" fill="#3f86d8" opacity="0.8"/>
<rect x="559.8" y="492.8" width="1.2" height="2.4" fill="#3f86d8" opacity="0.8"/>
<rect x="640.4" y="492.8" width="1.2" height="2.4" fill="#3f86d8" opacity="0.8"/>
<rect x="681.2" y="494" width="1.3" height="2" fill="#333"/>
<path d="M523.2,320.6 L582.8,320.6" stroke="#2d2d2d" stroke-width="2.8" stroke-linecap="round" fill="none"/>
<rect x="523.5" y="332.5" width="59" height="18" fill="#ffb45c" stroke="#8a929c" stroke-width="0.8"/>
<rect x="523.5" y="352.5" width="59" height="18" fill="#8fc6ff" stroke="#8a929c" stroke-width="0.8"/>
</g>
<g id="labels">
<text transform="translate(12.46,23.26) scale(1.8506,1.0000)" font-family='"Liberation Sans", "Noto Sans CJK KR", sans-serif' font-size="21.15" font-weight="350" font-style="normal" fill="#000">[미생물의 생장에 따른 유전상수 감지 센서 원리]</text>
<text transform="translate(12.26,298.54) scale(1.8440,1.0000)" font-family='"Liberation Sans", "Noto Sans CJK KR", sans-serif' font-size="21.24" font-weight="350" font-style="normal" fill="#000">[열곡선 측정 예]</text>
<text transform="translate(524.75,70.50) scale(1.8676,1.0000)" font-family='"Liberation Sans", sans-serif' font-size="13.21" font-weight="700" font-style="normal" fill="#12391c">THz</text>
<text transform="translate(502.22,145.38) scale(1.3939,1.0000)" font-family='"Liberation Sans", sans-serif' font-size="12.32" font-weight="700" font-style="normal" fill="#fff">MetaPattern</text>
<text transform="translate(416.81,191.15) scale(1.6911,1.0000)" font-family='"Liberation Sans", sans-serif' font-size="10.14" font-weight="700" font-style="normal" fill="#1e8a3c">Growth</text>
<text transform="translate(483.58,191.40) scale(1.4667,1.0000)" font-family='"Liberation Sans", sans-serif' font-size="10.47" font-weight="700" font-style="normal" fill="#e9a227">Inactivation</text>
<text transform="translate(583.22,191.75) scale(1.6008,1.0000)" font-family='"Liberation Sans", sans-serif' font-size="10.71" font-weight="700" font-style="normal" fill="#d3222a">DNA</text>
<text transform="translate(645.56,191.64) scale(1.5917,1.0000)" font-family='"Liberation Sans", sans-serif' font-size="10.81" font-weight="700" font-style="normal" fill="#7a1c8c">Cell wall</text>
<text transform="translate(438.52,248.84) scale(1.5006,1.0000)" font-family='"Liberation Serif", serif' font-size="15.53" font-weight="400" font-style="normal" fill="#1e8a3c">T</text>
<text transform="translate(454.20,253.75) scale(1.0455,1.0000)" font-family='"Liberation Sans", sans-serif' font-size="10.87" font-weight="400" font-style="normal" fill="#1e8a3c">1</text>
<text transform="translate(513.53,248.84) scale(1.4461,1.0000)" font-family='"Liberation Serif", serif' font-size="15.53" font-weight="400" font-style="normal" fill="#e9a227">T</text>
<text transform="translate(527.93,253.75) scale(1.5217,1.0000)" font-family='"Liberation Sans", sans-serif' font-size="10.71" font-weight="400" font-style="normal" fill="#e9a227">2</text>
<text transform="translate(594.77,248.84) scale(1.5006,1.0000)" font-family='"Liberation Serif", serif' font-size="15.53" font-weight="400" font-style="normal" fill="#d3222a">T</text>
<text transform="translate(610.26,253.64) scale(1.5456,1.0000)" font-family='"Liberation Sans", sans-serif' font-size="10.56" font-weight="400" font-style="normal" fill="#d3222a">3</text>
<text transform="translate(669.78,248.84) scale(1.4461,1.0000)" font-family='"Liberation Serif", serif' font-size="15.53" font-weight="400" font-style="normal" fill="#7a1c50">T</text>
<text transform="translate(683.95,253.75) scale(1.4183,1.0000)" font-family='"Liberation Sans", sans-serif' font-size="10.71" font-weight="400" font-style="normal" fill="#7a1c50">4</text>
<text transform="translate(734.02,249.09) scale(1.4649,1.0000)" font-family='"Liberation Serif", serif' font-size="15.91" font-weight="400" font-style="normal" fill="#000">T</text>
<text transform="translate(267.22,341.58) scale(1.6749,1.0000)" font-family='"Liberation Sans", sans-serif' font-size="16.55" font-weight="700" font-style="italic" fill="#f6f61a">E. coli</text>
<text transform="translate(244.72,403.58) scale(1.6283,1.0000)" font-family='"Liberation Sans", sans-serif' font-size="16.89" font-weight="700" font-style="italic" fill="#f6f61a">L. casei</text>
<text transform="translate(223.21,514.84) scale(1.7180,1.0000)" font-family='"Liberation Sans", sans-serif' font-size="15.85" font-weight="400" font-style="normal" fill="#000">40</text>
<text transform="translate(303.64,514.84) scale(1.7221,1.0000)" font-family='"Liberation Sans", sans-serif' font-size="15.85" font-weight="400" font-style="normal" fill="#000">60</text>
<text transform="translate(383.94,514.84) scale(1.6750,1.0000)" font-family='"Liberation Sans", sans-serif' font-size="15.85" font-weight="400" font-style="normal" fill="#000">80</text>
<text transform="translate(459.44,514.84) scale(1.6360,1.0000)" font-family='"Liberation Sans", sans-serif' font-size="15.85" font-weight="400" font-style="normal" fill="#000">100</text>
<text transform="translate(540.76,514.84) scale(1.5654,1.0000)" font-family='"Liberation Sans", sans-serif' font-size="15.85" font-weight="400" font-style="normal" fill="#000">120</text>
<text transform="translate(620.76,514.84) scale(1.5654,1.0000)" font-family='"Liberation Sans", sans-serif' font-size="15.85" font-weight="400" font-style="normal" fill="#000">140</text>
<text transform="translate(589.59,326.09) scale(1.6979,1.0000)" font-family='"Liberation Sans", sans-serif' font-size="15.88" font-weight="400" font-style="normal" fill="#000">Mixture</text>
<text transform="translate(590.60,347.30) scale(1.4734,1.0000)" font-family='"Liberation Sans", "Noto Sans CJK KR", sans-serif' font-size="16.13" font-weight="350" font-style="normal" fill="#000">대장균</text>
<text transform="translate(591.33,367.28) scale(1.4411,1.0000)" font-family='"Liberation Sans", "Noto Sans CJK KR", sans-serif' font-size="16.30" font-weight="350" font-style="normal" fill="#000">유산균</text>
<text transform="translate(723.28,506.58) scale(1.6214,1.0000)" font-family='"Liberation Sans", "Noto Sans CJK KR", sans-serif' font-size="23.68" font-weight="350" font-style="normal" fill="#000">온도</text>
<text transform="translate(803.06,506.74) scale(1.5055,1.0000)" font-family='"Liberation Serif", serif' font-size="23.91" font-weight="400" font-style="normal" fill="#000">(°C)</text>
<text transform="translate(535.14,170.94) scale(1.7612,1.0000)" font-family='"Liberation Sans", sans-serif' font-size="16.18" font-weight="400" font-style="normal" fill="#4646ec">ε</text>
<text transform="translate(595.43,170.94) scale(1.9919,1.0000)" font-family='"Liberation Sans", sans-serif' font-size="16.20" font-weight="400" font-style="normal" fill="#4646ec">ε′</text>
<text transform="translate(180.12,465.23) rotate(-90) scale(1.0000,1.4575)" font-family='"Liberation Sans", "Noto Sans CJK KR", sans-serif' font-size="24.27" font-weight="350" font-style="normal" fill="#000">미분열곡선</text>
</g>
</svg>
</body></html>
